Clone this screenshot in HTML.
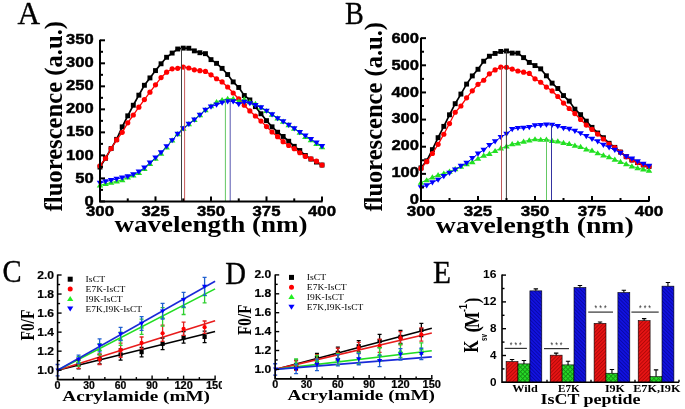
<!DOCTYPE html>
<html><head><meta charset="utf-8"><style>
html,body{margin:0;padding:0;background:#fff;}
body{width:685px;height:409px;overflow:hidden;position:relative;}
svg{position:absolute;left:0;top:0;filter:blur(0.35px);}
.t{position:absolute;white-space:nowrap;line-height:1;}
.sb{font-family:"Liberation Sans",sans-serif;font-weight:bold;}
.rb{font-family:"Liberation Serif",serif;font-weight:bold;}
.r{font-family:"Liberation Serif",serif;}
</style></head><body>
<svg width="685" height="409" viewBox="0 0 685 409">
<rect width="685" height="409" fill="#fff"/>
<path d="M100.00 167.06 L105.55 158.20 L111.10 148.56 L116.65 139.35 L122.20 126.88 L127.75 115.82 L133.30 105.25 L138.85 95.16 L144.40 85.28 L149.95 77.91 L155.50 70.59 L161.05 63.78 L166.60 57.28 L172.15 53.08 L177.70 49.00 L183.25 48.12 L188.80 48.23 L194.35 50.88 L199.90 52.72 L205.45 53.66 L211.00 59.63 L216.55 63.35 L222.10 68.37 L227.65 74.54 L233.20 81.91 L238.75 87.48 L244.30 95.53 L249.85 99.94 L255.40 106.63 L260.95 113.76 L266.50 120.64 L272.05 126.81 L277.60 132.23 L283.15 136.46 L288.70 141.25 L294.25 146.33 L299.80 150.51 L305.35 155.52 L310.90 159.07 L316.45 162.05 L322.00 165.04" fill="none" stroke="#000000" stroke-width="1.7"/>
<rect x="97.55" y="164.61" width="4.90" height="4.90" fill="#000000"/>
<rect x="103.10" y="155.75" width="4.90" height="4.90" fill="#000000"/>
<rect x="108.65" y="146.11" width="4.90" height="4.90" fill="#000000"/>
<rect x="114.20" y="136.90" width="4.90" height="4.90" fill="#000000"/>
<rect x="119.75" y="124.43" width="4.90" height="4.90" fill="#000000"/>
<rect x="125.30" y="113.37" width="4.90" height="4.90" fill="#000000"/>
<rect x="130.85" y="102.80" width="4.90" height="4.90" fill="#000000"/>
<rect x="136.40" y="92.71" width="4.90" height="4.90" fill="#000000"/>
<rect x="141.95" y="82.83" width="4.90" height="4.90" fill="#000000"/>
<rect x="147.50" y="75.46" width="4.90" height="4.90" fill="#000000"/>
<rect x="153.05" y="68.14" width="4.90" height="4.90" fill="#000000"/>
<rect x="158.60" y="61.33" width="4.90" height="4.90" fill="#000000"/>
<rect x="164.15" y="54.83" width="4.90" height="4.90" fill="#000000"/>
<rect x="169.70" y="50.63" width="4.90" height="4.90" fill="#000000"/>
<rect x="175.25" y="46.55" width="4.90" height="4.90" fill="#000000"/>
<rect x="180.80" y="45.67" width="4.90" height="4.90" fill="#000000"/>
<rect x="186.35" y="45.78" width="4.90" height="4.90" fill="#000000"/>
<rect x="191.90" y="48.43" width="4.90" height="4.90" fill="#000000"/>
<rect x="197.45" y="50.27" width="4.90" height="4.90" fill="#000000"/>
<rect x="203.00" y="51.21" width="4.90" height="4.90" fill="#000000"/>
<rect x="208.55" y="57.18" width="4.90" height="4.90" fill="#000000"/>
<rect x="214.10" y="60.90" width="4.90" height="4.90" fill="#000000"/>
<rect x="219.65" y="65.92" width="4.90" height="4.90" fill="#000000"/>
<rect x="225.20" y="72.09" width="4.90" height="4.90" fill="#000000"/>
<rect x="230.75" y="79.46" width="4.90" height="4.90" fill="#000000"/>
<rect x="236.30" y="85.03" width="4.90" height="4.90" fill="#000000"/>
<rect x="241.85" y="93.08" width="4.90" height="4.90" fill="#000000"/>
<rect x="247.40" y="97.49" width="4.90" height="4.90" fill="#000000"/>
<rect x="252.95" y="104.18" width="4.90" height="4.90" fill="#000000"/>
<rect x="258.50" y="111.31" width="4.90" height="4.90" fill="#000000"/>
<rect x="264.05" y="118.19" width="4.90" height="4.90" fill="#000000"/>
<rect x="269.60" y="124.36" width="4.90" height="4.90" fill="#000000"/>
<rect x="275.15" y="129.78" width="4.90" height="4.90" fill="#000000"/>
<rect x="280.70" y="134.01" width="4.90" height="4.90" fill="#000000"/>
<rect x="286.25" y="138.80" width="4.90" height="4.90" fill="#000000"/>
<rect x="291.80" y="143.88" width="4.90" height="4.90" fill="#000000"/>
<rect x="297.35" y="148.06" width="4.90" height="4.90" fill="#000000"/>
<rect x="302.90" y="153.07" width="4.90" height="4.90" fill="#000000"/>
<rect x="308.45" y="156.62" width="4.90" height="4.90" fill="#000000"/>
<rect x="314.00" y="159.60" width="4.90" height="4.90" fill="#000000"/>
<rect x="319.55" y="162.59" width="4.90" height="4.90" fill="#000000"/>
<path d="M100.00 165.96 L105.55 158.20 L111.10 148.56 L116.65 139.97 L122.20 132.28 L127.75 122.84 L133.30 115.01 L138.85 107.19 L144.40 99.54 L149.95 92.18 L155.50 84.82 L161.05 77.60 L166.60 72.22 L172.15 68.80 L177.70 68.32 L183.25 67.03 L188.80 67.99 L194.35 69.79 L199.90 70.69 L205.45 71.41 L211.00 74.82 L216.55 78.75 L222.10 81.92 L227.65 87.02 L233.20 93.01 L238.75 98.97 L244.30 105.20 L249.85 110.92 L255.40 115.99 L260.95 121.07 L266.50 126.59 L272.05 132.00 L277.60 136.70 L283.15 141.71 L288.70 145.49 L294.25 148.63 L299.80 152.76 L305.35 156.39 L310.90 158.78 L316.45 161.20 L322.00 165.04" fill="none" stroke="#ff0000" stroke-width="1.3"/>
<circle cx="100.00" cy="165.96" r="2.60" fill="#ff0000"/>
<circle cx="105.55" cy="158.20" r="2.60" fill="#ff0000"/>
<circle cx="111.10" cy="148.56" r="2.60" fill="#ff0000"/>
<circle cx="116.65" cy="139.97" r="2.60" fill="#ff0000"/>
<circle cx="122.20" cy="132.28" r="2.60" fill="#ff0000"/>
<circle cx="127.75" cy="122.84" r="2.60" fill="#ff0000"/>
<circle cx="133.30" cy="115.01" r="2.60" fill="#ff0000"/>
<circle cx="138.85" cy="107.19" r="2.60" fill="#ff0000"/>
<circle cx="144.40" cy="99.54" r="2.60" fill="#ff0000"/>
<circle cx="149.95" cy="92.18" r="2.60" fill="#ff0000"/>
<circle cx="155.50" cy="84.82" r="2.60" fill="#ff0000"/>
<circle cx="161.05" cy="77.60" r="2.60" fill="#ff0000"/>
<circle cx="166.60" cy="72.22" r="2.60" fill="#ff0000"/>
<circle cx="172.15" cy="68.80" r="2.60" fill="#ff0000"/>
<circle cx="177.70" cy="68.32" r="2.60" fill="#ff0000"/>
<circle cx="183.25" cy="67.03" r="2.60" fill="#ff0000"/>
<circle cx="188.80" cy="67.99" r="2.60" fill="#ff0000"/>
<circle cx="194.35" cy="69.79" r="2.60" fill="#ff0000"/>
<circle cx="199.90" cy="70.69" r="2.60" fill="#ff0000"/>
<circle cx="205.45" cy="71.41" r="2.60" fill="#ff0000"/>
<circle cx="211.00" cy="74.82" r="2.60" fill="#ff0000"/>
<circle cx="216.55" cy="78.75" r="2.60" fill="#ff0000"/>
<circle cx="222.10" cy="81.92" r="2.60" fill="#ff0000"/>
<circle cx="227.65" cy="87.02" r="2.60" fill="#ff0000"/>
<circle cx="233.20" cy="93.01" r="2.60" fill="#ff0000"/>
<circle cx="238.75" cy="98.97" r="2.60" fill="#ff0000"/>
<circle cx="244.30" cy="105.20" r="2.60" fill="#ff0000"/>
<circle cx="249.85" cy="110.92" r="2.60" fill="#ff0000"/>
<circle cx="255.40" cy="115.99" r="2.60" fill="#ff0000"/>
<circle cx="260.95" cy="121.07" r="2.60" fill="#ff0000"/>
<circle cx="266.50" cy="126.59" r="2.60" fill="#ff0000"/>
<circle cx="272.05" cy="132.00" r="2.60" fill="#ff0000"/>
<circle cx="277.60" cy="136.70" r="2.60" fill="#ff0000"/>
<circle cx="283.15" cy="141.71" r="2.60" fill="#ff0000"/>
<circle cx="288.70" cy="145.49" r="2.60" fill="#ff0000"/>
<circle cx="294.25" cy="148.63" r="2.60" fill="#ff0000"/>
<circle cx="299.80" cy="152.76" r="2.60" fill="#ff0000"/>
<circle cx="305.35" cy="156.39" r="2.60" fill="#ff0000"/>
<circle cx="310.90" cy="158.78" r="2.60" fill="#ff0000"/>
<circle cx="316.45" cy="161.20" r="2.60" fill="#ff0000"/>
<circle cx="322.00" cy="165.04" r="2.60" fill="#ff0000"/>
<path d="M100.00 185.29 L105.55 183.86 L111.10 182.61 L116.65 181.28 L122.20 180.01 L127.75 177.32 L133.30 175.41 L138.85 172.70 L144.40 168.72 L149.95 163.68 L155.50 158.65 L161.05 153.49 L166.60 147.27 L172.15 140.35 L177.70 133.97 L183.25 128.42 L188.80 124.03 L194.35 119.80 L199.90 114.92 L205.45 109.97 L211.00 106.12 L216.55 101.98 L222.10 99.90 L227.65 98.75 L233.20 98.75 L238.75 101.51 L244.30 99.21 L249.85 101.98 L255.40 103.82 L260.95 107.50 L266.50 110.87 L272.05 114.56 L277.60 118.34 L283.15 121.58 L288.70 124.95 L294.25 128.52 L299.80 132.42 L305.35 136.68 L310.90 140.14 L316.45 143.67 L322.00 147.08" fill="none" stroke="#22e022" stroke-width="1.0"/>
<path d="M100.00 182.30L103.25 187.50L96.75 187.50Z" fill="#22e022"/>
<path d="M105.55 180.87L108.80 186.07L102.30 186.07Z" fill="#22e022"/>
<path d="M111.10 179.62L114.35 184.82L107.85 184.82Z" fill="#22e022"/>
<path d="M116.65 178.29L119.90 183.49L113.40 183.49Z" fill="#22e022"/>
<path d="M122.20 177.02L125.45 182.22L118.95 182.22Z" fill="#22e022"/>
<path d="M127.75 174.33L131.00 179.53L124.50 179.53Z" fill="#22e022"/>
<path d="M133.30 172.42L136.55 177.62L130.05 177.62Z" fill="#22e022"/>
<path d="M138.85 169.71L142.10 174.91L135.60 174.91Z" fill="#22e022"/>
<path d="M144.40 165.73L147.65 170.93L141.15 170.93Z" fill="#22e022"/>
<path d="M149.95 160.69L153.20 165.89L146.70 165.89Z" fill="#22e022"/>
<path d="M155.50 155.66L158.75 160.86L152.25 160.86Z" fill="#22e022"/>
<path d="M161.05 150.50L164.30 155.70L157.80 155.70Z" fill="#22e022"/>
<path d="M166.60 144.28L169.85 149.48L163.35 149.48Z" fill="#22e022"/>
<path d="M172.15 137.36L175.40 142.56L168.90 142.56Z" fill="#22e022"/>
<path d="M177.70 130.98L180.95 136.18L174.45 136.18Z" fill="#22e022"/>
<path d="M183.25 125.43L186.50 130.63L180.00 130.63Z" fill="#22e022"/>
<path d="M188.80 121.04L192.05 126.24L185.55 126.24Z" fill="#22e022"/>
<path d="M194.35 116.81L197.60 122.01L191.10 122.01Z" fill="#22e022"/>
<path d="M199.90 111.93L203.15 117.13L196.65 117.13Z" fill="#22e022"/>
<path d="M205.45 106.98L208.70 112.18L202.20 112.18Z" fill="#22e022"/>
<path d="M211.00 103.13L214.25 108.33L207.75 108.33Z" fill="#22e022"/>
<path d="M216.55 98.99L219.80 104.19L213.30 104.19Z" fill="#22e022"/>
<path d="M222.10 96.91L225.35 102.11L218.85 102.11Z" fill="#22e022"/>
<path d="M227.65 95.76L230.90 100.96L224.40 100.96Z" fill="#22e022"/>
<path d="M233.20 95.76L236.45 100.96L229.95 100.96Z" fill="#22e022"/>
<path d="M238.75 98.52L242.00 103.72L235.50 103.72Z" fill="#22e022"/>
<path d="M244.30 96.22L247.55 101.42L241.05 101.42Z" fill="#22e022"/>
<path d="M249.85 98.99L253.10 104.19L246.60 104.19Z" fill="#22e022"/>
<path d="M255.40 100.83L258.65 106.03L252.15 106.03Z" fill="#22e022"/>
<path d="M260.95 104.51L264.20 109.71L257.70 109.71Z" fill="#22e022"/>
<path d="M266.50 107.88L269.75 113.08L263.25 113.08Z" fill="#22e022"/>
<path d="M272.05 111.57L275.30 116.77L268.80 116.77Z" fill="#22e022"/>
<path d="M277.60 115.35L280.85 120.55L274.35 120.55Z" fill="#22e022"/>
<path d="M283.15 118.59L286.40 123.79L279.90 123.79Z" fill="#22e022"/>
<path d="M288.70 121.96L291.95 127.16L285.45 127.16Z" fill="#22e022"/>
<path d="M294.25 125.53L297.50 130.73L291.00 130.73Z" fill="#22e022"/>
<path d="M299.80 129.43L303.05 134.63L296.55 134.63Z" fill="#22e022"/>
<path d="M305.35 133.69L308.60 138.89L302.10 138.89Z" fill="#22e022"/>
<path d="M310.90 137.15L314.15 142.35L307.65 142.35Z" fill="#22e022"/>
<path d="M316.45 140.68L319.70 145.88L313.20 145.88Z" fill="#22e022"/>
<path d="M322.00 144.09L325.25 149.29L318.75 149.29Z" fill="#22e022"/>
<path d="M100.00 182.99 L105.55 181.56 L111.10 180.30 L116.65 178.98 L122.20 177.81 L127.75 176.40 L133.30 174.49 L138.85 171.78 L144.40 167.80 L149.95 162.76 L155.50 157.73 L161.05 152.57 L166.60 146.38 L172.15 140.35 L177.70 133.97 L183.25 128.42 L188.80 124.03 L194.35 119.80 L199.90 114.92 L205.45 109.97 L211.00 106.67 L216.55 104.74 L222.10 102.67 L227.65 101.51 L233.20 101.51 L238.75 104.28 L244.30 101.98 L249.85 103.36 L255.40 105.20 L260.95 107.50 L266.50 110.87 L272.05 114.56 L277.60 118.34 L283.15 121.58 L288.70 124.95 L294.25 128.52 L299.80 132.31 L305.35 135.76 L310.90 139.22 L316.45 142.75 L322.00 146.16" fill="none" stroke="#0000ff" stroke-width="1.0"/>
<path d="M100.00 185.98L103.25 180.78L96.75 180.78Z" fill="#0000ff"/>
<path d="M105.55 184.55L108.80 179.35L102.30 179.35Z" fill="#0000ff"/>
<path d="M111.10 183.29L114.35 178.09L107.85 178.09Z" fill="#0000ff"/>
<path d="M116.65 181.97L119.90 176.77L113.40 176.77Z" fill="#0000ff"/>
<path d="M122.20 180.80L125.45 175.60L118.95 175.60Z" fill="#0000ff"/>
<path d="M127.75 179.39L131.00 174.19L124.50 174.19Z" fill="#0000ff"/>
<path d="M133.30 177.48L136.55 172.28L130.05 172.28Z" fill="#0000ff"/>
<path d="M138.85 174.77L142.10 169.57L135.60 169.57Z" fill="#0000ff"/>
<path d="M144.40 170.79L147.65 165.59L141.15 165.59Z" fill="#0000ff"/>
<path d="M149.95 165.75L153.20 160.55L146.70 160.55Z" fill="#0000ff"/>
<path d="M155.50 160.72L158.75 155.52L152.25 155.52Z" fill="#0000ff"/>
<path d="M161.05 155.56L164.30 150.36L157.80 150.36Z" fill="#0000ff"/>
<path d="M166.60 149.37L169.85 144.17L163.35 144.17Z" fill="#0000ff"/>
<path d="M172.15 143.34L175.40 138.14L168.90 138.14Z" fill="#0000ff"/>
<path d="M177.70 136.96L180.95 131.76L174.45 131.76Z" fill="#0000ff"/>
<path d="M183.25 131.41L186.50 126.21L180.00 126.21Z" fill="#0000ff"/>
<path d="M188.80 127.02L192.05 121.82L185.55 121.82Z" fill="#0000ff"/>
<path d="M194.35 122.79L197.60 117.59L191.10 117.59Z" fill="#0000ff"/>
<path d="M199.90 117.91L203.15 112.71L196.65 112.71Z" fill="#0000ff"/>
<path d="M205.45 112.96L208.70 107.76L202.20 107.76Z" fill="#0000ff"/>
<path d="M211.00 109.66L214.25 104.46L207.75 104.46Z" fill="#0000ff"/>
<path d="M216.55 107.73L219.80 102.53L213.30 102.53Z" fill="#0000ff"/>
<path d="M222.10 105.66L225.35 100.46L218.85 100.46Z" fill="#0000ff"/>
<path d="M227.65 104.50L230.90 99.30L224.40 99.30Z" fill="#0000ff"/>
<path d="M233.20 104.50L236.45 99.30L229.95 99.30Z" fill="#0000ff"/>
<path d="M238.75 107.27L242.00 102.07L235.50 102.07Z" fill="#0000ff"/>
<path d="M244.30 104.97L247.55 99.77L241.05 99.77Z" fill="#0000ff"/>
<path d="M249.85 106.35L253.10 101.15L246.60 101.15Z" fill="#0000ff"/>
<path d="M255.40 108.19L258.65 102.99L252.15 102.99Z" fill="#0000ff"/>
<path d="M260.95 110.49L264.20 105.29L257.70 105.29Z" fill="#0000ff"/>
<path d="M266.50 113.86L269.75 108.66L263.25 108.66Z" fill="#0000ff"/>
<path d="M272.05 117.55L275.30 112.35L268.80 112.35Z" fill="#0000ff"/>
<path d="M277.60 121.33L280.85 116.13L274.35 116.13Z" fill="#0000ff"/>
<path d="M283.15 124.57L286.40 119.37L279.90 119.37Z" fill="#0000ff"/>
<path d="M288.70 127.94L291.95 122.74L285.45 122.74Z" fill="#0000ff"/>
<path d="M294.25 131.51L297.50 126.31L291.00 126.31Z" fill="#0000ff"/>
<path d="M299.80 135.30L303.05 130.10L296.55 130.10Z" fill="#0000ff"/>
<path d="M305.35 138.75L308.60 133.55L302.10 133.55Z" fill="#0000ff"/>
<path d="M310.90 142.21L314.15 137.01L307.65 137.01Z" fill="#0000ff"/>
<path d="M316.45 145.74L319.70 140.54L313.20 140.54Z" fill="#0000ff"/>
<path d="M322.00 149.15L325.25 143.95L318.75 143.95Z" fill="#0000ff"/>
<line x1="181.5" y1="48" x2="181.5" y2="201.4" stroke="#404040" stroke-width="1"/>
<line x1="184.6" y1="66.5" x2="184.6" y2="201.4" stroke="#c85a5a" stroke-width="1"/>
<line x1="225.4" y1="100" x2="225.4" y2="201.4" stroke="#64c864" stroke-width="1"/>
<line x1="230.2" y1="100" x2="230.2" y2="201.4" stroke="#5858b0" stroke-width="1"/>
<path d="M100 39.795000000000016 V201.4 H322.5" fill="none" stroke="#000" stroke-width="2"/>
<line x1="100" y1="201.40" x2="105" y2="201.40" stroke="#000" stroke-width="2"/>
<line x1="100" y1="189.89" x2="103" y2="189.89" stroke="#000" stroke-width="2"/>
<line x1="100" y1="178.38" x2="105" y2="178.38" stroke="#000" stroke-width="2"/>
<line x1="100" y1="166.88" x2="103" y2="166.88" stroke="#000" stroke-width="2"/>
<line x1="100" y1="155.37" x2="105" y2="155.37" stroke="#000" stroke-width="2"/>
<line x1="100" y1="143.86" x2="103" y2="143.86" stroke="#000" stroke-width="2"/>
<line x1="100" y1="132.36" x2="105" y2="132.36" stroke="#000" stroke-width="2"/>
<line x1="100" y1="120.85" x2="103" y2="120.85" stroke="#000" stroke-width="2"/>
<line x1="100" y1="109.34" x2="105" y2="109.34" stroke="#000" stroke-width="2"/>
<line x1="100" y1="97.83" x2="103" y2="97.83" stroke="#000" stroke-width="2"/>
<line x1="100" y1="86.33" x2="105" y2="86.33" stroke="#000" stroke-width="2"/>
<line x1="100" y1="74.82" x2="103" y2="74.82" stroke="#000" stroke-width="2"/>
<line x1="100" y1="63.31" x2="105" y2="63.31" stroke="#000" stroke-width="2"/>
<line x1="100" y1="51.80" x2="103" y2="51.80" stroke="#000" stroke-width="2"/>
<line x1="100" y1="40.30" x2="105" y2="40.30" stroke="#000" stroke-width="2"/>
<line x1="100.00" y1="201.4" x2="100.00" y2="196.4" stroke="#000" stroke-width="2"/>
<line x1="127.75" y1="201.4" x2="127.75" y2="198.4" stroke="#000" stroke-width="2"/>
<line x1="155.50" y1="201.4" x2="155.50" y2="196.4" stroke="#000" stroke-width="2"/>
<line x1="183.25" y1="201.4" x2="183.25" y2="198.4" stroke="#000" stroke-width="2"/>
<line x1="211.00" y1="201.4" x2="211.00" y2="196.4" stroke="#000" stroke-width="2"/>
<line x1="238.75" y1="201.4" x2="238.75" y2="198.4" stroke="#000" stroke-width="2"/>
<line x1="266.50" y1="201.4" x2="266.50" y2="196.4" stroke="#000" stroke-width="2"/>
<line x1="294.25" y1="201.4" x2="294.25" y2="198.4" stroke="#000" stroke-width="2"/>
<line x1="322.00" y1="201.4" x2="322.00" y2="196.4" stroke="#000" stroke-width="2"/>
<path d="M421.00 167.89 L426.70 160.83 L432.40 149.63 L438.10 137.67 L443.80 126.37 L449.50 114.79 L455.20 103.70 L460.90 94.07 L466.60 84.11 L472.30 75.91 L478.00 69.27 L483.70 61.23 L489.40 56.23 L495.10 53.46 L500.80 51.44 L506.50 51.00 L512.20 53.11 L517.90 53.20 L523.60 57.62 L529.30 62.44 L535.00 65.57 L540.70 68.84 L546.40 75.81 L552.10 83.13 L557.80 88.49 L563.50 95.57 L569.20 101.09 L574.90 109.16 L580.60 114.67 L586.30 121.15 L592.00 127.36 L597.70 132.98 L603.40 137.69 L609.10 143.29 L614.80 147.37 L620.50 152.09 L626.20 156.64 L631.90 160.00 L637.60 162.60 L643.30 164.95 L649.00 166.53" fill="none" stroke="#000000" stroke-width="1.7"/>
<rect x="418.55" y="165.44" width="4.90" height="4.90" fill="#000000"/>
<rect x="424.25" y="158.38" width="4.90" height="4.90" fill="#000000"/>
<rect x="429.95" y="147.18" width="4.90" height="4.90" fill="#000000"/>
<rect x="435.65" y="135.22" width="4.90" height="4.90" fill="#000000"/>
<rect x="441.35" y="123.92" width="4.90" height="4.90" fill="#000000"/>
<rect x="447.05" y="112.34" width="4.90" height="4.90" fill="#000000"/>
<rect x="452.75" y="101.25" width="4.90" height="4.90" fill="#000000"/>
<rect x="458.45" y="91.62" width="4.90" height="4.90" fill="#000000"/>
<rect x="464.15" y="81.66" width="4.90" height="4.90" fill="#000000"/>
<rect x="469.85" y="73.46" width="4.90" height="4.90" fill="#000000"/>
<rect x="475.55" y="66.82" width="4.90" height="4.90" fill="#000000"/>
<rect x="481.25" y="58.78" width="4.90" height="4.90" fill="#000000"/>
<rect x="486.95" y="53.78" width="4.90" height="4.90" fill="#000000"/>
<rect x="492.65" y="51.01" width="4.90" height="4.90" fill="#000000"/>
<rect x="498.35" y="48.99" width="4.90" height="4.90" fill="#000000"/>
<rect x="504.05" y="48.55" width="4.90" height="4.90" fill="#000000"/>
<rect x="509.75" y="50.66" width="4.90" height="4.90" fill="#000000"/>
<rect x="515.45" y="50.75" width="4.90" height="4.90" fill="#000000"/>
<rect x="521.15" y="55.17" width="4.90" height="4.90" fill="#000000"/>
<rect x="526.85" y="59.99" width="4.90" height="4.90" fill="#000000"/>
<rect x="532.55" y="63.12" width="4.90" height="4.90" fill="#000000"/>
<rect x="538.25" y="66.39" width="4.90" height="4.90" fill="#000000"/>
<rect x="543.95" y="73.36" width="4.90" height="4.90" fill="#000000"/>
<rect x="549.65" y="80.68" width="4.90" height="4.90" fill="#000000"/>
<rect x="555.35" y="86.04" width="4.90" height="4.90" fill="#000000"/>
<rect x="561.05" y="93.12" width="4.90" height="4.90" fill="#000000"/>
<rect x="566.75" y="98.64" width="4.90" height="4.90" fill="#000000"/>
<rect x="572.45" y="106.71" width="4.90" height="4.90" fill="#000000"/>
<rect x="578.15" y="112.22" width="4.90" height="4.90" fill="#000000"/>
<rect x="583.85" y="118.70" width="4.90" height="4.90" fill="#000000"/>
<rect x="589.55" y="124.91" width="4.90" height="4.90" fill="#000000"/>
<rect x="595.25" y="130.53" width="4.90" height="4.90" fill="#000000"/>
<rect x="600.95" y="135.24" width="4.90" height="4.90" fill="#000000"/>
<rect x="606.65" y="140.84" width="4.90" height="4.90" fill="#000000"/>
<rect x="612.35" y="144.92" width="4.90" height="4.90" fill="#000000"/>
<rect x="618.05" y="149.64" width="4.90" height="4.90" fill="#000000"/>
<rect x="623.75" y="154.19" width="4.90" height="4.90" fill="#000000"/>
<rect x="629.45" y="157.55" width="4.90" height="4.90" fill="#000000"/>
<rect x="635.15" y="160.15" width="4.90" height="4.90" fill="#000000"/>
<rect x="640.85" y="162.50" width="4.90" height="4.90" fill="#000000"/>
<rect x="646.55" y="164.08" width="4.90" height="4.90" fill="#000000"/>
<path d="M421.00 168.43 L426.70 161.65 L432.40 153.50 L438.10 144.37 L443.80 134.24 L449.50 123.54 L455.20 112.25 L460.90 105.99 L466.60 97.87 L472.30 90.82 L478.00 84.30 L483.70 80.23 L489.40 73.83 L495.10 69.91 L500.80 67.20 L506.50 67.27 L512.20 69.10 L517.90 71.00 L523.60 72.14 L529.30 73.44 L535.00 78.87 L540.70 82.25 L546.40 87.03 L552.10 90.93 L557.80 96.50 L563.50 103.03 L569.20 108.50 L574.90 113.54 L580.60 119.50 L586.30 125.12 L592.00 129.45 L597.70 134.08 L603.40 139.00 L609.10 144.03 L614.80 147.69 L620.50 152.09 L626.20 156.64 L631.90 160.00 L637.60 162.60 L643.30 164.95 L649.00 166.53" fill="none" stroke="#ff0000" stroke-width="1.3"/>
<circle cx="421.00" cy="168.43" r="2.60" fill="#ff0000"/>
<circle cx="426.70" cy="161.65" r="2.60" fill="#ff0000"/>
<circle cx="432.40" cy="153.50" r="2.60" fill="#ff0000"/>
<circle cx="438.10" cy="144.37" r="2.60" fill="#ff0000"/>
<circle cx="443.80" cy="134.24" r="2.60" fill="#ff0000"/>
<circle cx="449.50" cy="123.54" r="2.60" fill="#ff0000"/>
<circle cx="455.20" cy="112.25" r="2.60" fill="#ff0000"/>
<circle cx="460.90" cy="105.99" r="2.60" fill="#ff0000"/>
<circle cx="466.60" cy="97.87" r="2.60" fill="#ff0000"/>
<circle cx="472.30" cy="90.82" r="2.60" fill="#ff0000"/>
<circle cx="478.00" cy="84.30" r="2.60" fill="#ff0000"/>
<circle cx="483.70" cy="80.23" r="2.60" fill="#ff0000"/>
<circle cx="489.40" cy="73.83" r="2.60" fill="#ff0000"/>
<circle cx="495.10" cy="69.91" r="2.60" fill="#ff0000"/>
<circle cx="500.80" cy="67.20" r="2.60" fill="#ff0000"/>
<circle cx="506.50" cy="67.27" r="2.60" fill="#ff0000"/>
<circle cx="512.20" cy="69.10" r="2.60" fill="#ff0000"/>
<circle cx="517.90" cy="71.00" r="2.60" fill="#ff0000"/>
<circle cx="523.60" cy="72.14" r="2.60" fill="#ff0000"/>
<circle cx="529.30" cy="73.44" r="2.60" fill="#ff0000"/>
<circle cx="535.00" cy="78.87" r="2.60" fill="#ff0000"/>
<circle cx="540.70" cy="82.25" r="2.60" fill="#ff0000"/>
<circle cx="546.40" cy="87.03" r="2.60" fill="#ff0000"/>
<circle cx="552.10" cy="90.93" r="2.60" fill="#ff0000"/>
<circle cx="557.80" cy="96.50" r="2.60" fill="#ff0000"/>
<circle cx="563.50" cy="103.03" r="2.60" fill="#ff0000"/>
<circle cx="569.20" cy="108.50" r="2.60" fill="#ff0000"/>
<circle cx="574.90" cy="113.54" r="2.60" fill="#ff0000"/>
<circle cx="580.60" cy="119.50" r="2.60" fill="#ff0000"/>
<circle cx="586.30" cy="125.12" r="2.60" fill="#ff0000"/>
<circle cx="592.00" cy="129.45" r="2.60" fill="#ff0000"/>
<circle cx="597.70" cy="134.08" r="2.60" fill="#ff0000"/>
<circle cx="603.40" cy="139.00" r="2.60" fill="#ff0000"/>
<circle cx="609.10" cy="144.03" r="2.60" fill="#ff0000"/>
<circle cx="614.80" cy="147.69" r="2.60" fill="#ff0000"/>
<circle cx="620.50" cy="152.09" r="2.60" fill="#ff0000"/>
<circle cx="626.20" cy="156.64" r="2.60" fill="#ff0000"/>
<circle cx="631.90" cy="160.00" r="2.60" fill="#ff0000"/>
<circle cx="637.60" cy="162.60" r="2.60" fill="#ff0000"/>
<circle cx="643.30" cy="164.95" r="2.60" fill="#ff0000"/>
<circle cx="649.00" cy="166.53" r="2.60" fill="#ff0000"/>
<path d="M421.00 182.54 L426.70 180.12 L432.40 177.35 L438.10 174.95 L443.80 173.48 L449.50 171.50 L455.20 168.97 L460.90 166.53 L466.60 164.01 L472.30 162.03 L478.00 158.66 L483.70 155.60 L489.40 153.78 L495.10 150.90 L500.80 148.32 L506.50 146.25 L512.20 143.96 L517.90 143.18 L523.60 141.47 L529.30 140.31 L535.00 139.12 L540.70 139.66 L546.40 139.42 L552.10 140.78 L557.80 141.17 L563.50 142.82 L569.20 143.80 L574.90 145.46 L580.60 146.72 L586.30 149.20 L592.00 150.61 L597.70 153.14 L603.40 155.26 L609.10 157.10 L614.80 159.57 L620.50 161.81 L626.20 164.03 L631.90 166.17 L637.60 167.96 L643.30 169.33 L649.00 170.60" fill="none" stroke="#22e022" stroke-width="1.0"/>
<path d="M421.00 179.55L424.25 184.75L417.75 184.75Z" fill="#22e022"/>
<path d="M426.70 177.13L429.95 182.33L423.45 182.33Z" fill="#22e022"/>
<path d="M432.40 174.36L435.65 179.56L429.15 179.56Z" fill="#22e022"/>
<path d="M438.10 171.96L441.35 177.16L434.85 177.16Z" fill="#22e022"/>
<path d="M443.80 170.49L447.05 175.69L440.55 175.69Z" fill="#22e022"/>
<path d="M449.50 168.51L452.75 173.71L446.25 173.71Z" fill="#22e022"/>
<path d="M455.20 165.98L458.45 171.18L451.95 171.18Z" fill="#22e022"/>
<path d="M460.90 163.54L464.15 168.74L457.65 168.74Z" fill="#22e022"/>
<path d="M466.60 161.02L469.85 166.22L463.35 166.22Z" fill="#22e022"/>
<path d="M472.30 159.04L475.55 164.24L469.05 164.24Z" fill="#22e022"/>
<path d="M478.00 155.67L481.25 160.87L474.75 160.87Z" fill="#22e022"/>
<path d="M483.70 152.61L486.95 157.81L480.45 157.81Z" fill="#22e022"/>
<path d="M489.40 150.79L492.65 155.99L486.15 155.99Z" fill="#22e022"/>
<path d="M495.10 147.91L498.35 153.11L491.85 153.11Z" fill="#22e022"/>
<path d="M500.80 145.33L504.05 150.53L497.55 150.53Z" fill="#22e022"/>
<path d="M506.50 143.26L509.75 148.46L503.25 148.46Z" fill="#22e022"/>
<path d="M512.20 140.97L515.45 146.17L508.95 146.17Z" fill="#22e022"/>
<path d="M517.90 140.19L521.15 145.39L514.65 145.39Z" fill="#22e022"/>
<path d="M523.60 138.48L526.85 143.68L520.35 143.68Z" fill="#22e022"/>
<path d="M529.30 137.32L532.55 142.52L526.05 142.52Z" fill="#22e022"/>
<path d="M535.00 136.13L538.25 141.33L531.75 141.33Z" fill="#22e022"/>
<path d="M540.70 136.67L543.95 141.87L537.45 141.87Z" fill="#22e022"/>
<path d="M546.40 136.43L549.65 141.63L543.15 141.63Z" fill="#22e022"/>
<path d="M552.10 137.79L555.35 142.99L548.85 142.99Z" fill="#22e022"/>
<path d="M557.80 138.18L561.05 143.38L554.55 143.38Z" fill="#22e022"/>
<path d="M563.50 139.83L566.75 145.03L560.25 145.03Z" fill="#22e022"/>
<path d="M569.20 140.81L572.45 146.01L565.95 146.01Z" fill="#22e022"/>
<path d="M574.90 142.47L578.15 147.67L571.65 147.67Z" fill="#22e022"/>
<path d="M580.60 143.73L583.85 148.93L577.35 148.93Z" fill="#22e022"/>
<path d="M586.30 146.21L589.55 151.41L583.05 151.41Z" fill="#22e022"/>
<path d="M592.00 147.62L595.25 152.82L588.75 152.82Z" fill="#22e022"/>
<path d="M597.70 150.15L600.95 155.35L594.45 155.35Z" fill="#22e022"/>
<path d="M603.40 152.27L606.65 157.47L600.15 157.47Z" fill="#22e022"/>
<path d="M609.10 154.11L612.35 159.31L605.85 159.31Z" fill="#22e022"/>
<path d="M614.80 156.58L618.05 161.78L611.55 161.78Z" fill="#22e022"/>
<path d="M620.50 158.82L623.75 164.02L617.25 164.02Z" fill="#22e022"/>
<path d="M626.20 161.04L629.45 166.24L622.95 166.24Z" fill="#22e022"/>
<path d="M631.90 163.18L635.15 168.38L628.65 168.38Z" fill="#22e022"/>
<path d="M637.60 164.97L640.85 170.17L634.35 170.17Z" fill="#22e022"/>
<path d="M643.30 166.34L646.55 171.54L640.05 171.54Z" fill="#22e022"/>
<path d="M649.00 167.61L652.25 172.81L645.75 172.81Z" fill="#22e022"/>
<path d="M421.00 187.43 L426.70 185.49 L432.40 182.39 L438.10 179.85 L443.80 176.22 L449.50 173.03 L455.20 169.79 L460.90 165.99 L466.60 162.93 L472.30 158.30 L478.00 153.78 L483.70 149.92 L489.40 145.20 L495.10 141.56 L500.80 137.10 L506.50 133.84 L512.20 129.24 L517.90 128.10 L523.60 128.03 L529.30 127.18 L535.00 125.55 L540.70 125.28 L546.40 124.74 L552.10 124.89 L557.80 126.27 L563.50 128.31 L569.20 129.03 L574.90 130.90 L580.60 133.38 L586.30 136.21 L592.00 139.04 L597.70 141.58 L603.40 144.96 L609.10 147.46 L614.80 149.89 L620.50 152.89 L626.20 156.48 L631.90 158.76 L637.60 161.49 L643.30 163.84 L649.00 165.99" fill="none" stroke="#0000ff" stroke-width="1.0"/>
<path d="M421.00 190.42L424.25 185.22L417.75 185.22Z" fill="#0000ff"/>
<path d="M426.70 188.48L429.95 183.28L423.45 183.28Z" fill="#0000ff"/>
<path d="M432.40 185.38L435.65 180.18L429.15 180.18Z" fill="#0000ff"/>
<path d="M438.10 182.84L441.35 177.64L434.85 177.64Z" fill="#0000ff"/>
<path d="M443.80 179.21L447.05 174.01L440.55 174.01Z" fill="#0000ff"/>
<path d="M449.50 176.02L452.75 170.82L446.25 170.82Z" fill="#0000ff"/>
<path d="M455.20 172.78L458.45 167.58L451.95 167.58Z" fill="#0000ff"/>
<path d="M460.90 168.98L464.15 163.78L457.65 163.78Z" fill="#0000ff"/>
<path d="M466.60 165.92L469.85 160.72L463.35 160.72Z" fill="#0000ff"/>
<path d="M472.30 161.29L475.55 156.09L469.05 156.09Z" fill="#0000ff"/>
<path d="M478.00 156.77L481.25 151.57L474.75 151.57Z" fill="#0000ff"/>
<path d="M483.70 152.91L486.95 147.71L480.45 147.71Z" fill="#0000ff"/>
<path d="M489.40 148.19L492.65 142.99L486.15 142.99Z" fill="#0000ff"/>
<path d="M495.10 144.55L498.35 139.35L491.85 139.35Z" fill="#0000ff"/>
<path d="M500.80 140.09L504.05 134.89L497.55 134.89Z" fill="#0000ff"/>
<path d="M506.50 136.83L509.75 131.63L503.25 131.63Z" fill="#0000ff"/>
<path d="M512.20 132.23L515.45 127.03L508.95 127.03Z" fill="#0000ff"/>
<path d="M517.90 131.09L521.15 125.89L514.65 125.89Z" fill="#0000ff"/>
<path d="M523.60 131.02L526.85 125.82L520.35 125.82Z" fill="#0000ff"/>
<path d="M529.30 130.17L532.55 124.97L526.05 124.97Z" fill="#0000ff"/>
<path d="M535.00 128.54L538.25 123.34L531.75 123.34Z" fill="#0000ff"/>
<path d="M540.70 128.27L543.95 123.07L537.45 123.07Z" fill="#0000ff"/>
<path d="M546.40 127.73L549.65 122.53L543.15 122.53Z" fill="#0000ff"/>
<path d="M552.10 127.88L555.35 122.68L548.85 122.68Z" fill="#0000ff"/>
<path d="M557.80 129.26L561.05 124.06L554.55 124.06Z" fill="#0000ff"/>
<path d="M563.50 131.30L566.75 126.10L560.25 126.10Z" fill="#0000ff"/>
<path d="M569.20 132.02L572.45 126.82L565.95 126.82Z" fill="#0000ff"/>
<path d="M574.90 133.89L578.15 128.69L571.65 128.69Z" fill="#0000ff"/>
<path d="M580.60 136.37L583.85 131.17L577.35 131.17Z" fill="#0000ff"/>
<path d="M586.30 139.20L589.55 134.00L583.05 134.00Z" fill="#0000ff"/>
<path d="M592.00 142.03L595.25 136.83L588.75 136.83Z" fill="#0000ff"/>
<path d="M597.70 144.57L600.95 139.37L594.45 139.37Z" fill="#0000ff"/>
<path d="M603.40 147.95L606.65 142.75L600.15 142.75Z" fill="#0000ff"/>
<path d="M609.10 150.45L612.35 145.25L605.85 145.25Z" fill="#0000ff"/>
<path d="M614.80 152.88L618.05 147.68L611.55 147.68Z" fill="#0000ff"/>
<path d="M620.50 155.88L623.75 150.68L617.25 150.68Z" fill="#0000ff"/>
<path d="M626.20 159.47L629.45 154.27L622.95 154.27Z" fill="#0000ff"/>
<path d="M631.90 161.75L635.15 156.55L628.65 156.55Z" fill="#0000ff"/>
<path d="M637.60 164.48L640.85 159.28L634.35 159.28Z" fill="#0000ff"/>
<path d="M643.30 166.83L646.55 161.63L640.05 161.63Z" fill="#0000ff"/>
<path d="M649.00 168.98L652.25 163.78L645.75 163.78Z" fill="#0000ff"/>
<line x1="501.5" y1="67" x2="501.5" y2="201" stroke="#be5a5a" stroke-width="1"/>
<line x1="506.4" y1="51" x2="506.4" y2="201" stroke="#383838" stroke-width="1"/>
<line x1="546.5" y1="139" x2="546.5" y2="201" stroke="#64c864" stroke-width="1"/>
<line x1="551.5" y1="124" x2="551.5" y2="201" stroke="#3434a0" stroke-width="1"/>
<path d="M421 37.660000000000025 V201 H649.5" fill="none" stroke="#000" stroke-width="2"/>
<line x1="421" y1="201.00" x2="426" y2="201.00" stroke="#000" stroke-width="2"/>
<line x1="421" y1="187.43" x2="424" y2="187.43" stroke="#000" stroke-width="2"/>
<line x1="421" y1="173.86" x2="426" y2="173.86" stroke="#000" stroke-width="2"/>
<line x1="421" y1="160.29" x2="424" y2="160.29" stroke="#000" stroke-width="2"/>
<line x1="421" y1="146.72" x2="426" y2="146.72" stroke="#000" stroke-width="2"/>
<line x1="421" y1="133.15" x2="424" y2="133.15" stroke="#000" stroke-width="2"/>
<line x1="421" y1="119.58" x2="426" y2="119.58" stroke="#000" stroke-width="2"/>
<line x1="421" y1="106.01" x2="424" y2="106.01" stroke="#000" stroke-width="2"/>
<line x1="421" y1="92.44" x2="426" y2="92.44" stroke="#000" stroke-width="2"/>
<line x1="421" y1="78.87" x2="424" y2="78.87" stroke="#000" stroke-width="2"/>
<line x1="421" y1="65.30" x2="426" y2="65.30" stroke="#000" stroke-width="2"/>
<line x1="421" y1="51.73" x2="424" y2="51.73" stroke="#000" stroke-width="2"/>
<line x1="421" y1="38.16" x2="426" y2="38.16" stroke="#000" stroke-width="2"/>
<line x1="421.00" y1="201" x2="421.00" y2="196" stroke="#000" stroke-width="2"/>
<line x1="449.50" y1="201" x2="449.50" y2="198" stroke="#000" stroke-width="2"/>
<line x1="478.00" y1="201" x2="478.00" y2="196" stroke="#000" stroke-width="2"/>
<line x1="506.50" y1="201" x2="506.50" y2="198" stroke="#000" stroke-width="2"/>
<line x1="535.00" y1="201" x2="535.00" y2="196" stroke="#000" stroke-width="2"/>
<line x1="563.50" y1="201" x2="563.50" y2="198" stroke="#000" stroke-width="2"/>
<line x1="592.00" y1="201" x2="592.00" y2="196" stroke="#000" stroke-width="2"/>
<line x1="620.50" y1="201" x2="620.50" y2="198" stroke="#000" stroke-width="2"/>
<line x1="649.00" y1="201" x2="649.00" y2="196" stroke="#000" stroke-width="2"/>
<text x="17.50" y="23.90" font-family='"Liberation Serif"' font-size="31" text-anchor="start" textLength="22.60" lengthAdjust="spacingAndGlyphs" fill="#000" stroke="#000" stroke-width="0.35">A</text>
<text x="345.00" y="23.90" font-family='"Liberation Serif"' font-size="31" text-anchor="start" textLength="18.80" lengthAdjust="spacingAndGlyphs" fill="#000" stroke="#000" stroke-width="0.35">B</text>
<text x="93.60" y="206.00" font-family='"Liberation Sans"' font-size="15" font-weight="bold" text-anchor="end" textLength="9.20" lengthAdjust="spacingAndGlyphs" fill="#000" stroke="#000" stroke-width="0.45">0</text>
<text x="93.60" y="182.80" font-family='"Liberation Sans"' font-size="15" font-weight="bold" text-anchor="end" textLength="18.40" lengthAdjust="spacingAndGlyphs" fill="#000" stroke="#000" stroke-width="0.45">50</text>
<text x="93.60" y="159.60" font-family='"Liberation Sans"' font-size="15" font-weight="bold" text-anchor="end" textLength="27.60" lengthAdjust="spacingAndGlyphs" fill="#000" stroke="#000" stroke-width="0.45">100</text>
<text x="93.60" y="136.40" font-family='"Liberation Sans"' font-size="15" font-weight="bold" text-anchor="end" textLength="27.60" lengthAdjust="spacingAndGlyphs" fill="#000" stroke="#000" stroke-width="0.45">150</text>
<text x="93.60" y="113.20" font-family='"Liberation Sans"' font-size="15" font-weight="bold" text-anchor="end" textLength="27.60" lengthAdjust="spacingAndGlyphs" fill="#000" stroke="#000" stroke-width="0.45">200</text>
<text x="93.60" y="90.00" font-family='"Liberation Sans"' font-size="15" font-weight="bold" text-anchor="end" textLength="27.60" lengthAdjust="spacingAndGlyphs" fill="#000" stroke="#000" stroke-width="0.45">250</text>
<text x="93.60" y="66.80" font-family='"Liberation Sans"' font-size="15" font-weight="bold" text-anchor="end" textLength="27.60" lengthAdjust="spacingAndGlyphs" fill="#000" stroke="#000" stroke-width="0.45">300</text>
<text x="93.60" y="43.60" font-family='"Liberation Sans"' font-size="15" font-weight="bold" text-anchor="end" textLength="27.60" lengthAdjust="spacingAndGlyphs" fill="#000" stroke="#000" stroke-width="0.45">350</text>
<text x="100.00" y="216.30" font-family='"Liberation Sans"' font-size="15" font-weight="bold" text-anchor="middle" textLength="28.00" lengthAdjust="spacingAndGlyphs" fill="#000" stroke="#000" stroke-width="0.45">300</text>
<text x="155.50" y="216.30" font-family='"Liberation Sans"' font-size="15" font-weight="bold" text-anchor="middle" textLength="28.00" lengthAdjust="spacingAndGlyphs" fill="#000" stroke="#000" stroke-width="0.45">325</text>
<text x="211.00" y="216.30" font-family='"Liberation Sans"' font-size="15" font-weight="bold" text-anchor="middle" textLength="28.00" lengthAdjust="spacingAndGlyphs" fill="#000" stroke="#000" stroke-width="0.45">350</text>
<text x="266.50" y="216.30" font-family='"Liberation Sans"' font-size="15" font-weight="bold" text-anchor="middle" textLength="28.00" lengthAdjust="spacingAndGlyphs" fill="#000" stroke="#000" stroke-width="0.45">375</text>
<text x="322.00" y="216.30" font-family='"Liberation Sans"' font-size="15" font-weight="bold" text-anchor="middle" textLength="28.00" lengthAdjust="spacingAndGlyphs" fill="#000" stroke="#000" stroke-width="0.45">400</text>
<text x="419.00" y="204.00" font-family='"Liberation Sans"' font-size="15" font-weight="bold" text-anchor="end" textLength="9.20" lengthAdjust="spacingAndGlyphs" fill="#000" stroke="#000" stroke-width="0.45">0</text>
<text x="419.00" y="177.15" font-family='"Liberation Sans"' font-size="15" font-weight="bold" text-anchor="end" textLength="27.60" lengthAdjust="spacingAndGlyphs" fill="#000" stroke="#000" stroke-width="0.45">100</text>
<text x="419.00" y="150.30" font-family='"Liberation Sans"' font-size="15" font-weight="bold" text-anchor="end" textLength="27.60" lengthAdjust="spacingAndGlyphs" fill="#000" stroke="#000" stroke-width="0.45">200</text>
<text x="419.00" y="123.45" font-family='"Liberation Sans"' font-size="15" font-weight="bold" text-anchor="end" textLength="27.60" lengthAdjust="spacingAndGlyphs" fill="#000" stroke="#000" stroke-width="0.45">300</text>
<text x="419.00" y="96.60" font-family='"Liberation Sans"' font-size="15" font-weight="bold" text-anchor="end" textLength="27.60" lengthAdjust="spacingAndGlyphs" fill="#000" stroke="#000" stroke-width="0.45">400</text>
<text x="419.00" y="69.75" font-family='"Liberation Sans"' font-size="15" font-weight="bold" text-anchor="end" textLength="27.60" lengthAdjust="spacingAndGlyphs" fill="#000" stroke="#000" stroke-width="0.45">500</text>
<text x="419.00" y="42.90" font-family='"Liberation Sans"' font-size="15" font-weight="bold" text-anchor="end" textLength="27.60" lengthAdjust="spacingAndGlyphs" fill="#000" stroke="#000" stroke-width="0.45">600</text>
<text x="421.00" y="215.60" font-family='"Liberation Sans"' font-size="15" font-weight="bold" text-anchor="middle" textLength="28.50" lengthAdjust="spacingAndGlyphs" fill="#000" stroke="#000" stroke-width="0.45">300</text>
<text x="478.00" y="215.60" font-family='"Liberation Sans"' font-size="15" font-weight="bold" text-anchor="middle" textLength="28.50" lengthAdjust="spacingAndGlyphs" fill="#000" stroke="#000" stroke-width="0.45">325</text>
<text x="535.00" y="215.60" font-family='"Liberation Sans"' font-size="15" font-weight="bold" text-anchor="middle" textLength="28.50" lengthAdjust="spacingAndGlyphs" fill="#000" stroke="#000" stroke-width="0.45">350</text>
<text x="592.00" y="215.60" font-family='"Liberation Sans"' font-size="15" font-weight="bold" text-anchor="middle" textLength="28.50" lengthAdjust="spacingAndGlyphs" fill="#000" stroke="#000" stroke-width="0.45">375</text>
<text x="649.00" y="215.60" font-family='"Liberation Sans"' font-size="15" font-weight="bold" text-anchor="middle" textLength="28.50" lengthAdjust="spacingAndGlyphs" fill="#000" stroke="#000" stroke-width="0.45">400</text>
<text transform="translate(61.70,211.40) rotate(-90)" x="0" y="0" font-family='"Liberation Serif"' font-size="26" font-weight="bold" text-anchor="start" textLength="190.40" lengthAdjust="spacingAndGlyphs" fill="#000" >fluorescence (a.u.)</text>
<text transform="translate(382.30,211.60) rotate(-90)" x="0" y="0" font-family='"Liberation Serif"' font-size="26" font-weight="bold" text-anchor="start" textLength="189.60" lengthAdjust="spacingAndGlyphs" fill="#000" >fluorescence (a.u.)</text>
<text x="114.50" y="232.40" font-family='"Liberation Serif"' font-size="24" font-weight="bold" text-anchor="start" textLength="193.00" lengthAdjust="spacingAndGlyphs" fill="#000" >wavelength (nm)</text>
<text x="435.80" y="233.00" font-family='"Liberation Serif"' font-size="24" font-weight="bold" text-anchor="start" textLength="197.90" lengthAdjust="spacingAndGlyphs" fill="#000" >wavelength (nm)</text>
<line x1="57.60" y1="370.20" x2="215.10" y2="331.55" stroke="#000000" stroke-width="1.6"/>
<line x1="57.60" y1="370.20" x2="215.10" y2="320.70" stroke="#e81c1c" stroke-width="1.6"/>
<line x1="57.60" y1="370.20" x2="215.10" y2="288.90" stroke="#22dd22" stroke-width="1.6"/>
<line x1="57.60" y1="370.20" x2="215.10" y2="281.19" stroke="#1a2ad8" stroke-width="1.6"/>
<path d="M78.60 360.20V368.77M76.60 360.20H80.60M76.60 368.77H80.60" stroke="#000000" stroke-width="1.3" fill="none"/>
<rect x="76.50" y="362.39" width="4.20" height="4.20" fill="#000000"/>
<path d="M99.60 354.49V364.01M97.60 354.49H101.60M97.60 364.01H101.60" stroke="#000000" stroke-width="1.3" fill="none"/>
<rect x="97.50" y="357.15" width="4.20" height="4.20" fill="#000000"/>
<path d="M120.60 348.78V360.20M118.60 348.78H122.60M118.60 360.20H122.60" stroke="#000000" stroke-width="1.3" fill="none"/>
<rect x="118.50" y="352.39" width="4.20" height="4.20" fill="#000000"/>
<path d="M141.60 347.35V356.87M139.60 347.35H143.60M139.60 356.87H143.60" stroke="#000000" stroke-width="1.3" fill="none"/>
<rect x="139.50" y="350.01" width="4.20" height="4.20" fill="#000000"/>
<path d="M162.60 338.12V349.54M160.60 338.12H164.60M160.60 349.54H164.60" stroke="#000000" stroke-width="1.3" fill="none"/>
<rect x="160.50" y="341.73" width="4.20" height="4.20" fill="#000000"/>
<path d="M183.60 331.64V343.07M181.60 331.64H185.60M181.60 343.07H185.60" stroke="#000000" stroke-width="1.3" fill="none"/>
<rect x="181.50" y="335.26" width="4.20" height="4.20" fill="#000000"/>
<path d="M204.60 331.17V342.59M202.60 331.17H206.60M202.60 342.59H206.60" stroke="#000000" stroke-width="1.3" fill="none"/>
<rect x="202.50" y="334.78" width="4.20" height="4.20" fill="#000000"/>
<path d="M78.60 358.78V368.30M76.60 358.78H80.60M76.60 368.30H80.60" stroke="#e02020" stroke-width="1.3" fill="none"/>
<circle cx="78.60" cy="363.54" r="2.10" fill="#ff0000"/>
<path d="M99.60 354.02V364.49M97.60 354.02H101.60M97.60 364.49H101.60" stroke="#e02020" stroke-width="1.3" fill="none"/>
<circle cx="99.60" cy="359.25" r="2.10" fill="#ff0000"/>
<path d="M120.60 343.07V357.35M118.60 343.07H122.60M118.60 357.35H122.60" stroke="#e02020" stroke-width="1.3" fill="none"/>
<circle cx="120.60" cy="350.21" r="2.10" fill="#ff0000"/>
<path d="M141.60 336.98V348.78M139.60 336.98H143.60M139.60 348.78H143.60" stroke="#e02020" stroke-width="1.3" fill="none"/>
<circle cx="141.60" cy="342.88" r="2.10" fill="#ff0000"/>
<path d="M162.60 325.17V341.35M160.60 325.17H164.60M160.60 341.35H164.60" stroke="#e02020" stroke-width="1.3" fill="none"/>
<circle cx="162.60" cy="333.26" r="2.10" fill="#ff0000"/>
<path d="M183.60 322.12V335.45M181.60 322.12H185.60M181.60 335.45H185.60" stroke="#e02020" stroke-width="1.3" fill="none"/>
<circle cx="183.60" cy="328.79" r="2.10" fill="#ff0000"/>
<path d="M204.60 320.98V333.36M202.60 320.98H206.60M202.60 333.36H206.60" stroke="#e02020" stroke-width="1.3" fill="none"/>
<circle cx="204.60" cy="327.17" r="2.10" fill="#ff0000"/>
<path d="M78.60 356.59V366.11M76.60 356.59H80.60M76.60 366.11H80.60" stroke="#30d030" stroke-width="1.3" fill="none"/>
<path d="M78.60 358.93L81.22 363.13L75.97 363.13Z" fill="#22ee22"/>
<path d="M99.60 343.54V354.97M97.60 343.54H101.60M97.60 354.97H101.60" stroke="#30d030" stroke-width="1.3" fill="none"/>
<path d="M99.60 346.84L102.22 351.04L96.97 351.04Z" fill="#22ee22"/>
<path d="M120.60 332.12V345.45M118.60 332.12H122.60M118.60 345.45H122.60" stroke="#30d030" stroke-width="1.3" fill="none"/>
<path d="M120.60 336.37L123.22 340.57L117.97 340.57Z" fill="#22ee22"/>
<path d="M141.60 319.17V334.40M139.60 319.17H143.60M139.60 334.40H143.60" stroke="#30d030" stroke-width="1.3" fill="none"/>
<path d="M141.60 324.37L144.22 328.57L138.97 328.57Z" fill="#22ee22"/>
<path d="M162.60 307.56V326.22M160.60 307.56H164.60M160.60 326.22H164.60" stroke="#30d030" stroke-width="1.3" fill="none"/>
<path d="M162.60 314.47L165.22 318.67L159.97 318.67Z" fill="#22ee22"/>
<path d="M183.60 298.32V314.51M181.60 298.32H185.60M181.60 314.51H185.60" stroke="#30d030" stroke-width="1.3" fill="none"/>
<path d="M183.60 304.00L186.22 308.20L180.97 308.20Z" fill="#22ee22"/>
<path d="M204.60 286.14V302.89M202.60 286.14H206.60M202.60 302.89H206.60" stroke="#30d030" stroke-width="1.3" fill="none"/>
<path d="M204.60 292.10L207.22 296.30L201.97 296.30Z" fill="#22ee22"/>
<path d="M78.60 355.06V363.63M76.60 355.06H80.60M76.60 363.63H80.60" stroke="#2060d0" stroke-width="1.3" fill="none"/>
<path d="M78.60 361.76L81.22 357.56L75.97 357.56Z" fill="#0000ff"/>
<path d="M99.60 338.97V351.92M97.60 338.97H101.60M97.60 351.92H101.60" stroke="#2060d0" stroke-width="1.3" fill="none"/>
<path d="M99.60 347.86L102.22 343.66L96.97 343.66Z" fill="#0000ff"/>
<path d="M120.60 327.36V340.69M118.60 327.36H122.60M118.60 340.69H122.60" stroke="#2060d0" stroke-width="1.3" fill="none"/>
<path d="M120.60 336.44L123.22 332.24L117.97 332.24Z" fill="#0000ff"/>
<path d="M141.60 316.70V330.41M139.60 316.70H143.60M139.60 330.41H143.60" stroke="#2060d0" stroke-width="1.3" fill="none"/>
<path d="M141.60 325.97L144.22 321.77L138.97 321.77Z" fill="#0000ff"/>
<path d="M162.60 303.37V318.98M160.60 303.37H164.60M160.60 318.98H164.60" stroke="#2060d0" stroke-width="1.3" fill="none"/>
<path d="M162.60 313.59L165.22 309.39L159.97 309.39Z" fill="#0000ff"/>
<path d="M183.60 292.42V307.08M181.60 292.42H185.60M181.60 307.08H185.60" stroke="#2060d0" stroke-width="1.3" fill="none"/>
<path d="M183.60 302.17L186.22 297.97L180.97 297.97Z" fill="#0000ff"/>
<path d="M204.60 277.38V295.47M202.60 277.38H206.60M202.60 295.47H206.60" stroke="#2060d0" stroke-width="1.3" fill="none"/>
<path d="M204.60 288.84L207.22 284.64L201.97 284.64Z" fill="#0000ff"/>
<path d="M57.60 364.49V375.91M55.60 364.49H59.60M55.60 375.91H59.60" stroke="#2040d0" stroke-width="1.3" fill="none"/>
<path d="M58.10 372.62L60.73 368.41L55.48 368.41Z" fill="#0000ff"/>
<path d="M57.6 274.50 V379.6 H215.60" fill="none" stroke="#000" stroke-width="1.6"/>
<line x1="57.6" y1="370.20" x2="61.6" y2="370.20" stroke="#000" stroke-width="1.4"/>
<line x1="57.6" y1="351.16" x2="61.6" y2="351.16" stroke="#000" stroke-width="1.4"/>
<line x1="57.6" y1="332.12" x2="61.6" y2="332.12" stroke="#000" stroke-width="1.4"/>
<line x1="57.6" y1="313.08" x2="61.6" y2="313.08" stroke="#000" stroke-width="1.4"/>
<line x1="57.6" y1="294.04" x2="61.6" y2="294.04" stroke="#000" stroke-width="1.4"/>
<line x1="57.6" y1="275.00" x2="61.6" y2="275.00" stroke="#000" stroke-width="1.4"/>
<line x1="57.6" y1="360.68" x2="60.1" y2="360.68" stroke="#000" stroke-width="1.4"/>
<line x1="57.6" y1="341.64" x2="60.1" y2="341.64" stroke="#000" stroke-width="1.4"/>
<line x1="57.6" y1="322.60" x2="60.1" y2="322.60" stroke="#000" stroke-width="1.4"/>
<line x1="57.6" y1="303.56" x2="60.1" y2="303.56" stroke="#000" stroke-width="1.4"/>
<line x1="57.6" y1="284.52" x2="60.1" y2="284.52" stroke="#000" stroke-width="1.4"/>
<line x1="57.60" y1="379.6" x2="57.60" y2="375.6" stroke="#000" stroke-width="1.4"/>
<line x1="73.35" y1="379.6" x2="73.35" y2="377.1" stroke="#000" stroke-width="1.4"/>
<line x1="89.10" y1="379.6" x2="89.10" y2="375.6" stroke="#000" stroke-width="1.4"/>
<line x1="104.85" y1="379.6" x2="104.85" y2="377.1" stroke="#000" stroke-width="1.4"/>
<line x1="120.60" y1="379.6" x2="120.60" y2="375.6" stroke="#000" stroke-width="1.4"/>
<line x1="136.35" y1="379.6" x2="136.35" y2="377.1" stroke="#000" stroke-width="1.4"/>
<line x1="152.10" y1="379.6" x2="152.10" y2="375.6" stroke="#000" stroke-width="1.4"/>
<line x1="167.85" y1="379.6" x2="167.85" y2="377.1" stroke="#000" stroke-width="1.4"/>
<line x1="183.60" y1="379.6" x2="183.60" y2="375.6" stroke="#000" stroke-width="1.4"/>
<line x1="199.35" y1="379.6" x2="199.35" y2="377.1" stroke="#000" stroke-width="1.4"/>
<line x1="215.10" y1="379.6" x2="215.10" y2="375.6" stroke="#000" stroke-width="1.4"/>
<text x="54.00" y="373.70" font-family='"Liberation Sans"' font-size="10.5" font-weight="bold" text-anchor="end" textLength="16.80" lengthAdjust="spacingAndGlyphs" fill="#000" stroke="#000" stroke-width="0.2">1.0</text>
<text x="54.00" y="354.66" font-family='"Liberation Sans"' font-size="10.5" font-weight="bold" text-anchor="end" textLength="16.80" lengthAdjust="spacingAndGlyphs" fill="#000" stroke="#000" stroke-width="0.2">1.2</text>
<text x="54.00" y="335.62" font-family='"Liberation Sans"' font-size="10.5" font-weight="bold" text-anchor="end" textLength="16.80" lengthAdjust="spacingAndGlyphs" fill="#000" stroke="#000" stroke-width="0.2">1.4</text>
<text x="54.00" y="316.58" font-family='"Liberation Sans"' font-size="10.5" font-weight="bold" text-anchor="end" textLength="16.80" lengthAdjust="spacingAndGlyphs" fill="#000" stroke="#000" stroke-width="0.2">1.6</text>
<text x="54.00" y="297.54" font-family='"Liberation Sans"' font-size="10.5" font-weight="bold" text-anchor="end" textLength="16.80" lengthAdjust="spacingAndGlyphs" fill="#000" stroke="#000" stroke-width="0.2">1.8</text>
<text x="54.00" y="278.50" font-family='"Liberation Sans"' font-size="10.5" font-weight="bold" text-anchor="end" textLength="16.80" lengthAdjust="spacingAndGlyphs" fill="#000" stroke="#000" stroke-width="0.2">2.0</text>
<text x="57.60" y="388.80" font-family='"Liberation Sans"' font-size="10.5" font-weight="bold" text-anchor="middle" textLength="6.00" lengthAdjust="spacingAndGlyphs" fill="#000" stroke="#000" stroke-width="0.2">0</text>
<text x="89.10" y="388.80" font-family='"Liberation Sans"' font-size="10.5" font-weight="bold" text-anchor="middle" textLength="11.60" lengthAdjust="spacingAndGlyphs" fill="#000" stroke="#000" stroke-width="0.2">30</text>
<text x="120.60" y="388.80" font-family='"Liberation Sans"' font-size="10.5" font-weight="bold" text-anchor="middle" textLength="11.60" lengthAdjust="spacingAndGlyphs" fill="#000" stroke="#000" stroke-width="0.2">60</text>
<text x="152.10" y="388.80" font-family='"Liberation Sans"' font-size="10.5" font-weight="bold" text-anchor="middle" textLength="11.60" lengthAdjust="spacingAndGlyphs" fill="#000" stroke="#000" stroke-width="0.2">90</text>
<text x="183.60" y="388.80" font-family='"Liberation Sans"' font-size="10.5" font-weight="bold" text-anchor="middle" textLength="18.40" lengthAdjust="spacingAndGlyphs" fill="#000" stroke="#000" stroke-width="0.2">120</text>
<text x="215.10" y="388.80" font-family='"Liberation Sans"' font-size="10.5" font-weight="bold" text-anchor="middle" textLength="18.40" lengthAdjust="spacingAndGlyphs" fill="#000" stroke="#000" stroke-width="0.2">150</text>
<text transform="translate(33.80,340.50) rotate(-90)" x="0" y="0" font-family='"Liberation Serif"' font-size="18.5" font-weight="bold" text-anchor="start" textLength="30.80" lengthAdjust="spacingAndGlyphs" fill="#000" >F0/F</text>
<text x="62.30" y="400.80" font-family='"Liberation Serif"' font-size="15" font-weight="bold" text-anchor="start" textLength="147.60" lengthAdjust="spacingAndGlyphs" fill="#000" >Acrylamide (mM)</text>
<rect x="67.70" y="276.70" width="5.00" height="5.00" fill="#000000"/>
<text x="85.60" y="282.10" font-family='"Liberation Serif"' font-size="8.8" text-anchor="start" textLength="19.50" lengthAdjust="spacingAndGlyphs" fill="#000" >IsCT</text>
<circle cx="70.20" cy="289.00" r="2.50" fill="#ff0000"/>
<text x="85.60" y="291.90" font-family='"Liberation Serif"' font-size="8.8" text-anchor="start" textLength="39.80" lengthAdjust="spacingAndGlyphs" fill="#000" >E7K-IsCT</text>
<path d="M70.20 295.93L73.33 300.93L67.08 300.93Z" fill="#22ee22"/>
<text x="85.60" y="301.70" font-family='"Liberation Serif"' font-size="8.8" text-anchor="start" textLength="37.00" lengthAdjust="spacingAndGlyphs" fill="#000" >I9K-IsCT</text>
<path d="M70.20 311.47L73.33 306.47L67.08 306.47Z" fill="#0000ff"/>
<text x="85.60" y="311.50" font-family='"Liberation Serif"' font-size="8.8" text-anchor="start" textLength="56.50" lengthAdjust="spacingAndGlyphs" fill="#000" >E7K,I9K-IsCT</text>
<line x1="275.20" y1="369.40" x2="431.80" y2="328.29" stroke="#000000" stroke-width="1.6"/>
<line x1="275.20" y1="369.40" x2="431.80" y2="333.02" stroke="#e81c1c" stroke-width="1.6"/>
<line x1="275.20" y1="369.40" x2="431.80" y2="350.78" stroke="#22dd22" stroke-width="1.6"/>
<line x1="275.20" y1="369.40" x2="431.80" y2="356.83" stroke="#1a2ad8" stroke-width="1.6"/>
<path d="M296.08 360.14V369.59M294.08 360.14H298.08M294.08 369.59H298.08" stroke="#000000" stroke-width="1.3" fill="none"/>
<rect x="293.98" y="362.76" width="4.20" height="4.20" fill="#000000"/>
<path d="M316.96 353.33V362.78M314.96 353.33H318.96M314.96 362.78H318.96" stroke="#000000" stroke-width="1.3" fill="none"/>
<rect x="314.86" y="355.96" width="4.20" height="4.20" fill="#000000"/>
<path d="M337.84 347.10V358.44M335.84 347.10H339.84M335.84 358.44H339.84" stroke="#000000" stroke-width="1.3" fill="none"/>
<rect x="335.74" y="350.67" width="4.20" height="4.20" fill="#000000"/>
<path d="M358.72 340.58V351.92M356.72 340.58H360.72M356.72 351.92H360.72" stroke="#000000" stroke-width="1.3" fill="none"/>
<rect x="356.62" y="344.15" width="4.20" height="4.20" fill="#000000"/>
<path d="M379.60 334.43V347.66M377.60 334.43H381.60M377.60 347.66H381.60" stroke="#000000" stroke-width="1.3" fill="none"/>
<rect x="377.50" y="338.95" width="4.20" height="4.20" fill="#000000"/>
<path d="M400.48 330.28V343.51M398.48 330.28H402.48M398.48 343.51H402.48" stroke="#000000" stroke-width="1.3" fill="none"/>
<rect x="398.38" y="334.79" width="4.20" height="4.20" fill="#000000"/>
<path d="M421.36 323.28V336.51M419.36 323.28H423.36M419.36 336.51H423.36" stroke="#000000" stroke-width="1.3" fill="none"/>
<rect x="419.26" y="327.80" width="4.20" height="4.20" fill="#000000"/>
<path d="M296.08 360.89V370.34M294.08 360.89H298.08M294.08 370.34H298.08" stroke="#e02020" stroke-width="1.3" fill="none"/>
<circle cx="296.08" cy="365.62" r="2.10" fill="#ff0000"/>
<path d="M316.96 354.75V364.20M314.96 354.75H318.96M314.96 364.20H318.96" stroke="#e02020" stroke-width="1.3" fill="none"/>
<circle cx="316.96" cy="359.48" r="2.10" fill="#ff0000"/>
<path d="M337.84 348.23V359.57M335.84 348.23H339.84M335.84 359.57H339.84" stroke="#e02020" stroke-width="1.3" fill="none"/>
<circle cx="337.84" cy="353.90" r="2.10" fill="#ff0000"/>
<path d="M358.72 342.28V353.62M356.72 342.28H360.72M356.72 353.62H360.72" stroke="#e02020" stroke-width="1.3" fill="none"/>
<circle cx="358.72" cy="347.95" r="2.10" fill="#ff0000"/>
<path d="M379.60 339.16V352.39M377.60 339.16H381.60M377.60 352.39H381.60" stroke="#e02020" stroke-width="1.3" fill="none"/>
<circle cx="379.60" cy="345.77" r="2.10" fill="#ff0000"/>
<path d="M400.48 331.60V344.83M398.48 331.60H402.48M398.48 344.83H402.48" stroke="#e02020" stroke-width="1.3" fill="none"/>
<circle cx="400.48" cy="338.21" r="2.10" fill="#ff0000"/>
<path d="M421.36 327.82V341.05M419.36 327.82H423.36M419.36 341.05H423.36" stroke="#e02020" stroke-width="1.3" fill="none"/>
<circle cx="421.36" cy="334.43" r="2.10" fill="#ff0000"/>
<path d="M296.08 359.00V368.45M294.08 359.00H298.08M294.08 368.45H298.08" stroke="#30d030" stroke-width="1.3" fill="none"/>
<path d="M296.08 361.31L298.70 365.51L293.45 365.51Z" fill="#22ee22"/>
<path d="M316.96 355.51V364.96M314.96 355.51H318.96M314.96 364.96H318.96" stroke="#30d030" stroke-width="1.3" fill="none"/>
<path d="M316.96 357.82L319.58 362.02L314.33 362.02Z" fill="#22ee22"/>
<path d="M337.84 353.43V364.77M335.84 353.43H339.84M335.84 364.77H339.84" stroke="#30d030" stroke-width="1.3" fill="none"/>
<path d="M337.84 356.68L340.46 360.88L335.21 360.88Z" fill="#22ee22"/>
<path d="M358.72 352.39V363.73M356.72 352.39H360.72M356.72 363.73H360.72" stroke="#30d030" stroke-width="1.3" fill="none"/>
<path d="M358.72 355.64L361.35 359.84L356.10 359.84Z" fill="#22ee22"/>
<path d="M379.60 347.76V360.99M377.60 347.76H381.60M377.60 360.99H381.60" stroke="#30d030" stroke-width="1.3" fill="none"/>
<path d="M379.60 351.96L382.23 356.16L376.98 356.16Z" fill="#22ee22"/>
<path d="M400.48 344.26V357.49M398.48 344.26H402.48M398.48 357.49H402.48" stroke="#30d030" stroke-width="1.3" fill="none"/>
<path d="M400.48 348.46L403.11 352.66L397.86 352.66Z" fill="#22ee22"/>
<path d="M421.36 342.94V354.28M419.36 342.94H423.36M419.36 354.28H423.36" stroke="#30d030" stroke-width="1.3" fill="none"/>
<path d="M421.36 346.19L423.99 350.39L418.74 350.39Z" fill="#22ee22"/>
<path d="M296.08 364.20V373.65M294.08 364.20H298.08M294.08 373.65H298.08" stroke="#2060d0" stroke-width="1.3" fill="none"/>
<path d="M296.08 371.34L298.70 367.14L293.45 367.14Z" fill="#0000ff"/>
<path d="M316.96 359.19V370.53M314.96 359.19H318.96M314.96 370.53H318.96" stroke="#2060d0" stroke-width="1.3" fill="none"/>
<path d="M316.96 367.28L319.58 363.08L314.33 363.08Z" fill="#0000ff"/>
<path d="M337.84 354.56V365.90M335.84 354.56H339.84M335.84 365.90H339.84" stroke="#2060d0" stroke-width="1.3" fill="none"/>
<path d="M337.84 362.65L340.46 358.45L335.21 358.45Z" fill="#0000ff"/>
<path d="M358.72 353.43V364.77M356.72 353.43H360.72M356.72 364.77H360.72" stroke="#2060d0" stroke-width="1.3" fill="none"/>
<path d="M358.72 361.51L361.35 357.31L356.10 357.31Z" fill="#0000ff"/>
<path d="M379.60 355.22V366.56M377.60 355.22H381.60M377.60 366.56H381.60" stroke="#2060d0" stroke-width="1.3" fill="none"/>
<path d="M379.60 363.31L382.23 359.11L376.98 359.11Z" fill="#0000ff"/>
<path d="M400.48 348.70V360.04M398.48 348.70H402.48M398.48 360.04H402.48" stroke="#2060d0" stroke-width="1.3" fill="none"/>
<path d="M400.48 356.79L403.11 352.59L397.86 352.59Z" fill="#0000ff"/>
<path d="M421.36 348.23V359.57M419.36 348.23H423.36M419.36 359.57H423.36" stroke="#2060d0" stroke-width="1.3" fill="none"/>
<path d="M421.36 356.32L423.99 352.12L418.74 352.12Z" fill="#0000ff"/>
<path d="M275.20 363.73V375.07M273.20 363.73H277.20M273.20 375.07H277.20" stroke="#2040d0" stroke-width="1.3" fill="none"/>
<path d="M275.70 371.81L278.32 367.61L273.07 367.61Z" fill="#0000ff"/>
<path d="M275.2 274.40 V378.9 H432.30" fill="none" stroke="#000" stroke-width="1.6"/>
<line x1="275.2" y1="369.40" x2="279.2" y2="369.40" stroke="#000" stroke-width="1.4"/>
<line x1="275.2" y1="350.50" x2="279.2" y2="350.50" stroke="#000" stroke-width="1.4"/>
<line x1="275.2" y1="331.60" x2="279.2" y2="331.60" stroke="#000" stroke-width="1.4"/>
<line x1="275.2" y1="312.70" x2="279.2" y2="312.70" stroke="#000" stroke-width="1.4"/>
<line x1="275.2" y1="293.80" x2="279.2" y2="293.80" stroke="#000" stroke-width="1.4"/>
<line x1="275.2" y1="274.90" x2="279.2" y2="274.90" stroke="#000" stroke-width="1.4"/>
<line x1="275.2" y1="359.95" x2="277.7" y2="359.95" stroke="#000" stroke-width="1.4"/>
<line x1="275.2" y1="341.05" x2="277.7" y2="341.05" stroke="#000" stroke-width="1.4"/>
<line x1="275.2" y1="322.15" x2="277.7" y2="322.15" stroke="#000" stroke-width="1.4"/>
<line x1="275.2" y1="303.25" x2="277.7" y2="303.25" stroke="#000" stroke-width="1.4"/>
<line x1="275.2" y1="284.35" x2="277.7" y2="284.35" stroke="#000" stroke-width="1.4"/>
<line x1="275.20" y1="378.9" x2="275.20" y2="374.9" stroke="#000" stroke-width="1.4"/>
<line x1="290.86" y1="378.9" x2="290.86" y2="376.4" stroke="#000" stroke-width="1.4"/>
<line x1="306.52" y1="378.9" x2="306.52" y2="374.9" stroke="#000" stroke-width="1.4"/>
<line x1="322.18" y1="378.9" x2="322.18" y2="376.4" stroke="#000" stroke-width="1.4"/>
<line x1="337.84" y1="378.9" x2="337.84" y2="374.9" stroke="#000" stroke-width="1.4"/>
<line x1="353.50" y1="378.9" x2="353.50" y2="376.4" stroke="#000" stroke-width="1.4"/>
<line x1="369.16" y1="378.9" x2="369.16" y2="374.9" stroke="#000" stroke-width="1.4"/>
<line x1="384.82" y1="378.9" x2="384.82" y2="376.4" stroke="#000" stroke-width="1.4"/>
<line x1="400.48" y1="378.9" x2="400.48" y2="374.9" stroke="#000" stroke-width="1.4"/>
<line x1="416.14" y1="378.9" x2="416.14" y2="376.4" stroke="#000" stroke-width="1.4"/>
<line x1="431.80" y1="378.9" x2="431.80" y2="374.9" stroke="#000" stroke-width="1.4"/>
<text x="271.20" y="372.90" font-family='"Liberation Sans"' font-size="10.5" font-weight="bold" text-anchor="end" textLength="16.80" lengthAdjust="spacingAndGlyphs" fill="#000" stroke="#000" stroke-width="0.2">1.0</text>
<text x="271.20" y="354.00" font-family='"Liberation Sans"' font-size="10.5" font-weight="bold" text-anchor="end" textLength="16.80" lengthAdjust="spacingAndGlyphs" fill="#000" stroke="#000" stroke-width="0.2">1.2</text>
<text x="271.20" y="335.10" font-family='"Liberation Sans"' font-size="10.5" font-weight="bold" text-anchor="end" textLength="16.80" lengthAdjust="spacingAndGlyphs" fill="#000" stroke="#000" stroke-width="0.2">1.4</text>
<text x="271.20" y="316.20" font-family='"Liberation Sans"' font-size="10.5" font-weight="bold" text-anchor="end" textLength="16.80" lengthAdjust="spacingAndGlyphs" fill="#000" stroke="#000" stroke-width="0.2">1.6</text>
<text x="271.20" y="297.30" font-family='"Liberation Sans"' font-size="10.5" font-weight="bold" text-anchor="end" textLength="16.80" lengthAdjust="spacingAndGlyphs" fill="#000" stroke="#000" stroke-width="0.2">1.8</text>
<text x="271.20" y="278.40" font-family='"Liberation Sans"' font-size="10.5" font-weight="bold" text-anchor="end" textLength="16.80" lengthAdjust="spacingAndGlyphs" fill="#000" stroke="#000" stroke-width="0.2">2.0</text>
<text x="275.20" y="388.10" font-family='"Liberation Sans"' font-size="10.5" font-weight="bold" text-anchor="middle" textLength="6.00" lengthAdjust="spacingAndGlyphs" fill="#000" stroke="#000" stroke-width="0.2">0</text>
<text x="306.52" y="388.10" font-family='"Liberation Sans"' font-size="10.5" font-weight="bold" text-anchor="middle" textLength="11.60" lengthAdjust="spacingAndGlyphs" fill="#000" stroke="#000" stroke-width="0.2">30</text>
<text x="337.84" y="388.10" font-family='"Liberation Sans"' font-size="10.5" font-weight="bold" text-anchor="middle" textLength="11.60" lengthAdjust="spacingAndGlyphs" fill="#000" stroke="#000" stroke-width="0.2">60</text>
<text x="369.16" y="388.10" font-family='"Liberation Sans"' font-size="10.5" font-weight="bold" text-anchor="middle" textLength="11.60" lengthAdjust="spacingAndGlyphs" fill="#000" stroke="#000" stroke-width="0.2">90</text>
<text x="400.48" y="388.10" font-family='"Liberation Sans"' font-size="10.5" font-weight="bold" text-anchor="middle" textLength="18.40" lengthAdjust="spacingAndGlyphs" fill="#000" stroke="#000" stroke-width="0.2">120</text>
<text x="431.80" y="388.10" font-family='"Liberation Sans"' font-size="10.5" font-weight="bold" text-anchor="middle" textLength="18.40" lengthAdjust="spacingAndGlyphs" fill="#000" stroke="#000" stroke-width="0.2">150</text>
<text transform="translate(251.40,334.90) rotate(-90)" x="0" y="0" font-family='"Liberation Serif"' font-size="18.5" font-weight="bold" text-anchor="start" textLength="30.30" lengthAdjust="spacingAndGlyphs" fill="#000" >F0/F</text>
<text x="287.50" y="400.10" font-family='"Liberation Serif"' font-size="15" font-weight="bold" text-anchor="start" textLength="147.50" lengthAdjust="spacingAndGlyphs" fill="#000" >Acrylamide (mM)</text>
<rect x="289.00" y="274.90" width="5.00" height="5.00" fill="#000000"/>
<text x="306.80" y="280.30" font-family='"Liberation Serif"' font-size="8.8" text-anchor="start" textLength="19.50" lengthAdjust="spacingAndGlyphs" fill="#000" >IsCT</text>
<circle cx="291.50" cy="287.20" r="2.50" fill="#ff0000"/>
<text x="306.80" y="290.10" font-family='"Liberation Serif"' font-size="8.8" text-anchor="start" textLength="39.80" lengthAdjust="spacingAndGlyphs" fill="#000" >E7K-IsCT</text>
<path d="M291.50 294.12L294.62 299.12L288.38 299.12Z" fill="#22ee22"/>
<text x="306.80" y="299.90" font-family='"Liberation Serif"' font-size="8.8" text-anchor="start" textLength="37.00" lengthAdjust="spacingAndGlyphs" fill="#000" >I9K-IsCT</text>
<path d="M291.50 309.67L294.62 304.67L288.38 304.67Z" fill="#0000ff"/>
<text x="306.80" y="309.70" font-family='"Liberation Serif"' font-size="8.8" text-anchor="start" textLength="56.50" lengthAdjust="spacingAndGlyphs" fill="#000" >E7K,I9K-IsCT</text>
<text x="2.40" y="281.80" font-family='"Liberation Serif"' font-size="31" text-anchor="start" textLength="19.10" lengthAdjust="spacingAndGlyphs" fill="#000" stroke="#000" stroke-width="0.35">C</text>
<text x="225.30" y="283.60" font-family='"Liberation Serif"' font-size="31" text-anchor="start" textLength="20.70" lengthAdjust="spacingAndGlyphs" fill="#000" stroke="#000" stroke-width="0.35">D</text>
<rect x="222" y="380" width="8" height="12" fill="#fff"/>
<defs>
<pattern id="hr" patternUnits="userSpaceOnUse" width="2.6" height="2.6" patternTransform="rotate(45)"><rect width="2.6" height="2.6" fill="#e81414"/><rect width="0.9" height="2.6" fill="#b00808"/></pattern>
<pattern id="hb" patternUnits="userSpaceOnUse" width="2.6" height="2.6" patternTransform="rotate(-45)"><rect width="2.6" height="2.6" fill="#1212e0"/><rect width="0.9" height="2.6" fill="#0808a8"/></pattern>
<pattern id="hg" patternUnits="userSpaceOnUse" width="3.2" height="3.2" patternTransform="rotate(45)"><rect width="3.2" height="3.2" fill="#28dc28"/><rect width="0.9" height="3.2" fill="#149014"/><rect width="3.2" height="0.9" fill="#149014"/></pattern>
</defs>
<rect x="506.10" y="361.53" width="11.90" height="20.77" fill="url(#hr)" stroke="#000" stroke-width="0.6"/>
<path d="M512.05 359.52V361.53M509.85 359.52H514.25" stroke="#000" stroke-width="1.1" fill="none"/>
<rect x="518.00" y="363.88" width="11.90" height="18.43" fill="url(#hg)" stroke="#000" stroke-width="0.6"/>
<path d="M523.95 360.53V363.88M521.75 360.53H526.15" stroke="#000" stroke-width="1.1" fill="none"/>
<rect x="529.90" y="290.85" width="11.90" height="91.45" fill="url(#hb)" stroke="#000" stroke-width="0.6"/>
<path d="M535.85 288.84V290.85M533.65 288.84H538.05" stroke="#000" stroke-width="1.1" fill="none"/>
<rect x="550.20" y="355.17" width="11.90" height="27.13" fill="url(#hr)" stroke="#000" stroke-width="0.6"/>
<path d="M556.15 353.16V355.17M553.95 353.16H558.35" stroke="#000" stroke-width="1.1" fill="none"/>
<rect x="562.10" y="364.88" width="11.90" height="17.42" fill="url(#hg)" stroke="#000" stroke-width="0.6"/>
<path d="M568.05 361.19V364.88M565.85 361.19H570.25" stroke="#000" stroke-width="1.1" fill="none"/>
<rect x="574.00" y="287.50" width="11.90" height="94.81" fill="url(#hb)" stroke="#000" stroke-width="0.6"/>
<path d="M579.95 285.49V287.50M577.75 285.49H582.15" stroke="#000" stroke-width="1.1" fill="none"/>
<rect x="594.10" y="323.34" width="11.90" height="58.96" fill="url(#hr)" stroke="#000" stroke-width="0.6"/>
<path d="M600.05 322.00V323.34M597.85 322.00H602.25" stroke="#000" stroke-width="1.1" fill="none"/>
<rect x="606.00" y="373.25" width="11.90" height="9.05" fill="url(#hg)" stroke="#000" stroke-width="0.6"/>
<path d="M611.95 369.57V373.25M609.75 369.57H614.15" stroke="#000" stroke-width="1.1" fill="none"/>
<rect x="617.90" y="292.52" width="11.90" height="89.78" fill="url(#hb)" stroke="#000" stroke-width="0.6"/>
<path d="M623.85 290.18V292.52M621.65 290.18H626.05" stroke="#000" stroke-width="1.1" fill="none"/>
<rect x="638.20" y="320.66" width="11.90" height="61.64" fill="url(#hr)" stroke="#000" stroke-width="0.6"/>
<path d="M644.15 318.65V320.66M641.95 318.65H646.35" stroke="#000" stroke-width="1.1" fill="none"/>
<rect x="650.10" y="376.61" width="11.90" height="5.69" fill="url(#hg)" stroke="#000" stroke-width="0.6"/>
<path d="M656.05 369.91V376.61M653.85 369.91H658.25" stroke="#000" stroke-width="1.1" fill="none"/>
<rect x="662.00" y="286.16" width="11.90" height="96.14" fill="url(#hb)" stroke="#000" stroke-width="0.6"/>
<path d="M667.95 282.47V286.16M665.75 282.47H670.15" stroke="#000" stroke-width="1.1" fill="none"/>
<line x1="504.6" y1="348.4" x2="526.9" y2="348.4" stroke="#333" stroke-width="1.2"/>
<text x="515.75" y="347.60" font-family='"Liberation Sans"' font-size="8.5" text-anchor="middle" textLength="12.00" lengthAdjust="spacingAndGlyphs" fill="#333" >* * *</text>
<line x1="544" y1="348.6" x2="569" y2="348.6" stroke="#333" stroke-width="1.2"/>
<text x="556.50" y="347.80" font-family='"Liberation Sans"' font-size="8.5" text-anchor="middle" textLength="12.00" lengthAdjust="spacingAndGlyphs" fill="#333" >* * *</text>
<line x1="588.2" y1="312.1" x2="613" y2="312.1" stroke="#333" stroke-width="1.2"/>
<text x="600.60" y="311.30" font-family='"Liberation Sans"' font-size="8.5" text-anchor="middle" textLength="12.00" lengthAdjust="spacingAndGlyphs" fill="#333" >* * *</text>
<line x1="631.4" y1="312.1" x2="658.7" y2="312.1" stroke="#333" stroke-width="1.2"/>
<text x="645.05" y="311.30" font-family='"Liberation Sans"' font-size="8.5" text-anchor="middle" textLength="12.00" lengthAdjust="spacingAndGlyphs" fill="#333" >* * *</text>
<path d="M502 274.60 V382.3 H679" fill="none" stroke="#000" stroke-width="1.6"/>
<line x1="502" y1="382.30" x2="506" y2="382.30" stroke="#000" stroke-width="1.4"/>
<text x="496.40" y="385.60" font-family='"Liberation Sans"' font-size="10" font-weight="bold" text-anchor="end" textLength="6.50" lengthAdjust="spacingAndGlyphs" fill="#000" >0</text>
<line x1="502" y1="355.50" x2="506" y2="355.50" stroke="#000" stroke-width="1.4"/>
<text x="496.40" y="358.80" font-family='"Liberation Sans"' font-size="10" font-weight="bold" text-anchor="end" textLength="6.50" lengthAdjust="spacingAndGlyphs" fill="#000" >4</text>
<line x1="502" y1="328.70" x2="506" y2="328.70" stroke="#000" stroke-width="1.4"/>
<text x="496.40" y="332.00" font-family='"Liberation Sans"' font-size="10" font-weight="bold" text-anchor="end" textLength="6.50" lengthAdjust="spacingAndGlyphs" fill="#000" >8</text>
<line x1="502" y1="301.90" x2="506" y2="301.90" stroke="#000" stroke-width="1.4"/>
<text x="496.40" y="305.20" font-family='"Liberation Sans"' font-size="10" font-weight="bold" text-anchor="end" textLength="13.50" lengthAdjust="spacingAndGlyphs" fill="#000" >12</text>
<line x1="502" y1="275.10" x2="506" y2="275.10" stroke="#000" stroke-width="1.4"/>
<text x="496.40" y="278.40" font-family='"Liberation Sans"' font-size="10" font-weight="bold" text-anchor="end" textLength="13.50" lengthAdjust="spacingAndGlyphs" fill="#000" >16</text>
<line x1="502" y1="368.90" x2="504.5" y2="368.90" stroke="#000" stroke-width="1.4"/>
<line x1="502" y1="342.10" x2="504.5" y2="342.10" stroke="#000" stroke-width="1.4"/>
<line x1="502" y1="315.30" x2="504.5" y2="315.30" stroke="#000" stroke-width="1.4"/>
<line x1="502" y1="288.50" x2="504.5" y2="288.50" stroke="#000" stroke-width="1.4"/>
<line x1="547" y1="382.3" x2="547" y2="379.8" stroke="#000" stroke-width="1.4"/>
<line x1="591" y1="382.3" x2="591" y2="379.8" stroke="#000" stroke-width="1.4"/>
<line x1="635" y1="382.3" x2="635" y2="379.8" stroke="#000" stroke-width="1.4"/>
<line x1="679" y1="382.3" x2="679" y2="379.8" stroke="#000" stroke-width="1.4"/>
<text x="512.20" y="391.80" font-family='"Liberation Serif"' font-size="9.5" font-weight="bold" text-anchor="start" textLength="25.60" lengthAdjust="spacingAndGlyphs" fill="#000" >Wild</text>
<text x="558.00" y="391.80" font-family='"Liberation Serif"' font-size="9.5" font-weight="bold" text-anchor="start" textLength="21.70" lengthAdjust="spacingAndGlyphs" fill="#000" >E7K</text>
<text x="604.90" y="391.80" font-family='"Liberation Serif"' font-size="9.5" font-weight="bold" text-anchor="start" textLength="20.00" lengthAdjust="spacingAndGlyphs" fill="#000" >I9K</text>
<text x="633.20" y="391.80" font-family='"Liberation Serif"' font-size="9.5" font-weight="bold" text-anchor="start" textLength="47.30" lengthAdjust="spacingAndGlyphs" fill="#000" >E7K,I9K</text>
<text x="540.50" y="404.20" font-family='"Liberation Serif"' font-size="14" font-weight="bold" text-anchor="start" textLength="100.00" lengthAdjust="spacingAndGlyphs" fill="#000" >IsCT peptide</text>
<text x="433.00" y="282.90" font-family='"Liberation Serif"' font-size="31" text-anchor="start" textLength="18.00" lengthAdjust="spacingAndGlyphs" fill="#000" stroke="#000" stroke-width="0.35">E</text>
<text transform="translate(478.30,352.60) rotate(-90)" x="0" y="0" font-family='"Liberation Serif"' font-size="20" font-weight="bold" text-anchor="start" textLength="12.00" lengthAdjust="spacingAndGlyphs" fill="#000" >K</text>
<text transform="translate(487.00,341.00) rotate(-90)" x="0" y="0" font-family='"Liberation Sans"' font-size="9" font-weight="bold" text-anchor="start" textLength="6.90" lengthAdjust="spacingAndGlyphs" fill="#000" >sv</text>
<text transform="translate(478.60,332.60) rotate(-90)" x="0" y="0" font-family='"Liberation Serif"' font-size="20" font-weight="bold" text-anchor="start" textLength="6.40" lengthAdjust="spacingAndGlyphs" fill="#000" >(</text>
<text transform="translate(478.60,327.90) rotate(-90)" x="0" y="0" font-family='"Liberation Serif"' font-size="20" font-weight="bold" text-anchor="start" textLength="16.20" lengthAdjust="spacingAndGlyphs" fill="#000" >M</text>
<text transform="translate(467.20,312.00) rotate(-90)" x="0" y="0" font-family='"Liberation Sans"' font-size="10.5" font-weight="bold" text-anchor="start" textLength="7.80" lengthAdjust="spacingAndGlyphs" fill="#000" >-1</text>
<text transform="translate(478.60,303.30) rotate(-90)" x="0" y="0" font-family='"Liberation Serif"' font-size="20" font-weight="bold" text-anchor="start" textLength="5.60" lengthAdjust="spacingAndGlyphs" fill="#000" >)</text>
</svg>

</body></html>
